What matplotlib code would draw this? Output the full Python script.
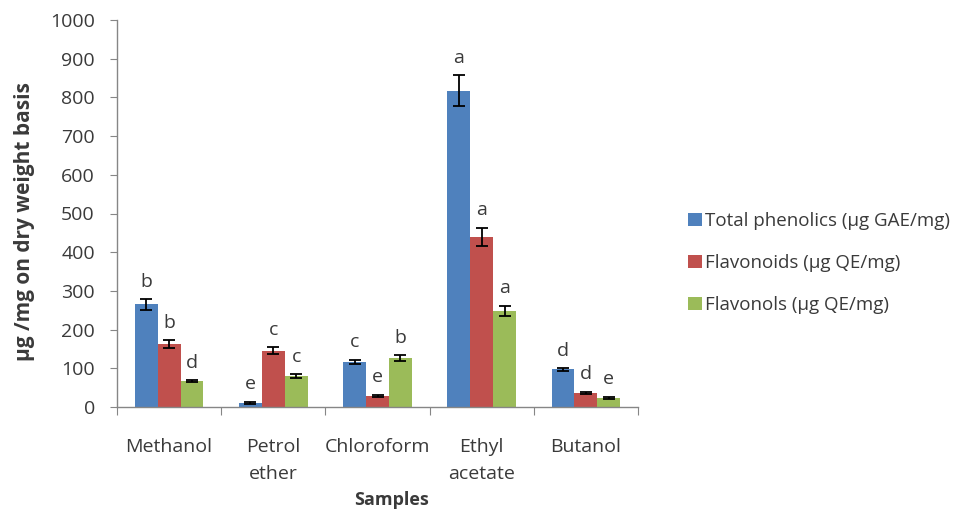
import matplotlib
matplotlib.use("Agg")
import matplotlib.pyplot as plt
import numpy as np
from matplotlib.patches import Patch

plt.rcParams['font.family'] = ['Open Sans', 'DejaVu Sans']

samples = ["Methanol", "Petrol\nether", "Chloroform", "Ethyl\nacetate", "Butanol"]
series = ["Total phenolics (\u00b5g GAE/mg)", "Flavonoids (\u00b5g QE/mg)", "Flavonols (\u00b5g QE/mg)"]

phenolics = [265, 11, 117, 817, 97]
flavonoids = [162, 145, 29, 440, 37]
flavonols = [67, 80, 126, 248, 24]

phenolics_err = [14, 3, 5, 40, 4]
flavonoids_err = [10, 9, 3, 23, 3]
flavonols_err = [3, 5, 8, 14, 3]

phenolics_grp = ["b", "e", "c", "a", "d"]
flavonoids_grp = ["b", "c", "e", "a", "d"]
flavonols_grp = ["d", "c", "b", "a", "e"]

colors = ["#4F81BD", "#C0504D", "#9BBB59"]
text_col = "#3a3a3a"
axis_col = "#868686"

fig = plt.figure(figsize=(9.63, 5.09), dpi=100)
ax = fig.add_axes([117 / 963, 102 / 509, 521 / 963, 387 / 509])

x = np.arange(len(samples))
w = 0.22
data = [(phenolics, phenolics_err, phenolics_grp),
        (flavonoids, flavonoids_err, flavonoids_grp),
        (flavonols, flavonols_err, flavonols_grp)]

for i, (vals, errs, grps) in enumerate(data):
    pos = x + (i - 1) * w
    ax.bar(pos, vals, w, color=colors[i], zorder=2)
    ax.errorbar(pos, vals, yerr=errs, fmt="none", ecolor="black",
                elinewidth=1.3, capsize=4.5, capthick=1.3, zorder=3)
    for px, v, e, g in zip(pos, vals, errs, grps):
        ax.annotate(g, (px, v + e), xytext=(0, 6), textcoords="offset points",
                    ha="center", va="bottom", fontsize=14, color=text_col)

ax.set_xlim(-0.5, len(samples) - 0.5)
ax.set_ylim(0, 1000)
ax.set_yticks(np.arange(0, 1001, 100))

# boundary ticks as major, category names on minor ticks
ax.set_xticks(np.arange(-0.5, len(samples), 1.0))
ax.set_xticklabels([])
ax.set_xticks(x, minor=True)
ax.set_xticklabels(samples, minor=True, fontsize=14, color=text_col, linespacing=1.7)
ax.tick_params(axis="x", which="minor", length=0, pad=22)
ax.tick_params(axis="x", which="major", length=6, color=axis_col, direction="out")
ax.tick_params(axis="y", length=5, color=axis_col, labelsize=14, labelcolor=text_col, pad=11)

for side in ["top", "right"]:
    ax.spines[side].set_visible(False)
for side in ["left", "bottom"]:
    ax.spines[side].set_color(axis_col)
    ax.spines[side].set_linewidth(1.0)

fig.text(391 / 963, 1 - 500 / 509, "Samples", ha="center", va="center",
         fontsize=13, fontweight="bold", color=text_col)
fig.text(25 / 963, 1 - 222 / 509, "\u00b5g /mg on dry weight basis", ha="center", va="center",
         rotation=90, fontsize=15, fontweight="bold", color=text_col)

handles = [Patch(facecolor=c, edgecolor="none") for c in colors]
fig.legend(handles, series, loc="center left", bbox_to_anchor=(679 / 963, 1 - 263 / 509),
           frameon=False, fontsize=13.5, labelcolor=text_col, handlelength=0.7,
           handleheight=0.7, handletextpad=0.2, labelspacing=1.3, borderpad=0)

fig.savefig("out.png", dpi=100)
